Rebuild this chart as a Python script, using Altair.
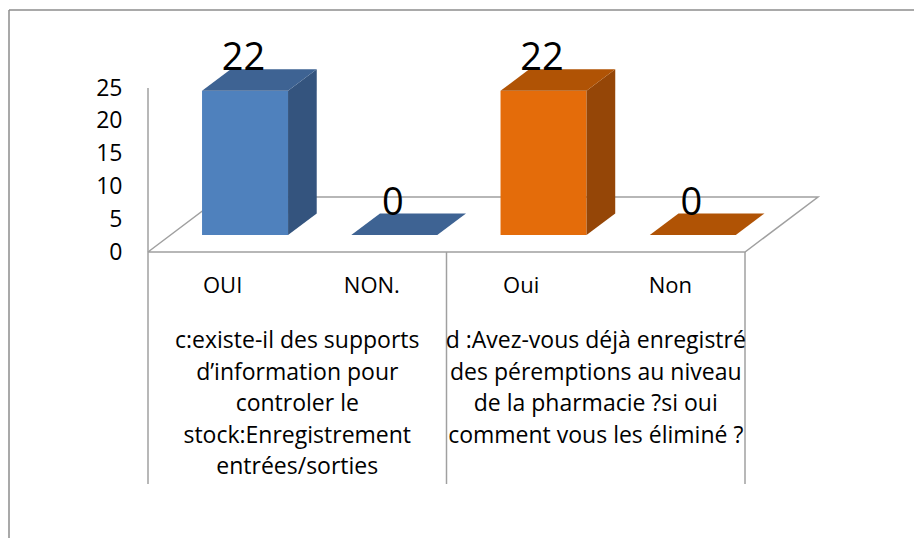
import altair as alt
import pandas as pd

# ---------------- data ----------------
categories = ["OUI", "NON.", "Oui", "Non"]
values = [22, 0, 22, 0]
series = ["c", "c", "d", "d"]
group_lines = [
    ["c:existe-il des supports", "d’information pour", "controler le",
     "stock:Enregistrement", "entrées/sorties"],
    ["d :Avez-vous déjà enregistré", "des péremptions au niveau",
     "de la pharmacie ?si oui", "comment vous les éliminé ?"],
]
y_ticks = [0, 5, 10, 15, 20, 25]

# ---------------- style ----------------
FRONT = {"c": "#4f81bd", "d": "#e46c0a"}
SIDE = {"c": "#34547e", "d": "#954607"}
TOP = {"c": "#3e6393", "d": "#b05305"}
FONT = "Open Sans"
LINE = "#a0a0a0"

# ---------------- layout ----------------
W, H = 905, 528
PAD_L, PAD_T = 1, 2
X0_PX = 139.0      # slot 0 in plot pixels
PX_SLOT = 149.25
Y0_PX = 242.0      # value 0 in plot pixels
PX_UNIT = 6.56
x_lo = -X0_PX / PX_SLOT
x_hi = x_lo + W / PX_SLOT
y_hi = Y0_PX / PX_UNIT
y_lo = y_hi - H / PX_UNIT

DX, DY = 73 / PX_SLOT, 55 / PX_UNIT     # floor depth vector
F0, F1 = 0.307, 0.70                    # bar depth position (fraction of floor)
HW = 43 / PX_SLOT                       # bar half width
N = len(categories)
TABLE_BOTTOM = -(484 - 252) / PX_UNIT
CAT_Y = -(286 - 252) / PX_UNIT
GROUP_Y = -(348 - 252) / PX_UNIT

xs = alt.Scale(domain=[x_lo, x_hi], nice=False, zero=False)
ys = alt.Scale(domain=[y_lo, y_hi], nice=False, zero=False)
yaxis = alt.Axis(values=y_ticks, offset=-X0_PX, labelPadding=26, domain=False,
                 ticks=False, grid=False, labelFont=FONT, labelFontSize=23,
                 labelColor="#000000", title=None)


def X(f):
    return alt.X(f"{f}:Q", scale=xs, axis=None)


def Y(f):
    return alt.Y(f"{f}:Q", scale=ys, axis=yaxis, stack=False)


# ---------------- build geometry from data ----------------
front_rows, side_rows, top_rows, label_rows = [], [], [], []
for i, (cat, v, s) in enumerate(zip(categories, values, series)):
    c = i + 0.5 + F0 * DX
    xl, xr = c - HW, c + HW
    yb, yt = F0 * DY, v + F0 * DY
    ddx, ddy = (F1 - F0) * DX, (F1 - F0) * DY
    front_rows.append(dict(x=xl, x2=xr, y=yb, y2=yt, col=FRONT[s], id=i))
    side_rows += [
        dict(x=xr, lo=yb, hi=yt, col=SIDE[s], id=i),
        dict(x=xr + ddx, lo=yb + ddy, hi=yt + ddy, col=SIDE[s], id=i),
    ]
    top_rows += [
        dict(x=xl, lo=yt, hi=yt, col=TOP[s], id=i),
        dict(x=xl + ddx, lo=yt, hi=yt + ddy, col=TOP[s], id=i),
        dict(x=xr, lo=yt, hi=yt + ddy, col=TOP[s], id=i),
        dict(x=xr + ddx, lo=yt + ddy, hi=yt + ddy, col=TOP[s], id=i),
    ]
    label_rows.append(dict(x=c - 0.01, y=yt + ddy, t=str(v)))

front = pd.DataFrame(front_rows)
side = pd.DataFrame(side_rows)
top = pd.DataFrame(top_rows)
labels = pd.DataFrame(label_rows)

floor = pd.DataFrame(dict(
    x=[0, N, N + DX, DX, 0],
    y=[0, 0, DY, DY, 0],
    o=[0, 1, 2, 3, 4],
))
table = pd.DataFrame(dict(
    x=[0, N / 2, N],
    y=[25, 0, 0],
    y2=[TABLE_BOTTOM] * 3,
))
cats = pd.DataFrame(dict(x=[i + 0.5 for i in range(N)], y=[CAT_Y] * N, t=categories))
groups = pd.DataFrame(dict(
    x=[N / 4, 3 * N / 4],
    y=[GROUP_Y] * 2,
    t=["\n".join(g) for g in group_lines],
))

# ---------------- layers ----------------
frame_top = alt.Chart(pd.DataFrame({"a": [0]})).mark_rule(color="#8c8c8c", strokeWidth=1.5).encode(
    x=alt.value(0), x2=alt.value(W), y=alt.value(0))
frame_left = alt.Chart(pd.DataFrame({"a": [0]})).mark_rule(color="#8c8c8c", strokeWidth=1.5).encode(
    x=alt.value(0), y=alt.value(0), y2=alt.value(H))

floor_l = alt.Chart(floor).mark_line(color=LINE, strokeWidth=1.5).encode(
    x=X("x"), y=Y("y"), order="o:Q")
table_l = alt.Chart(table).mark_rule(color=LINE, strokeWidth=1.5).encode(
    x=X("x"), y=Y("y"), y2="y2:Q")

front_l = alt.Chart(front).mark_rect().encode(
    x=X("x"), x2="x2:Q", y=Y("y"), y2="y2:Q",
    color=alt.Color("col:N", scale=None))
side_l = alt.Chart(side).mark_area().encode(
    x=X("x"), y=Y("lo"), y2="hi:Q", detail="id:N",
    color=alt.Color("col:N", scale=None))
top_l = alt.Chart(top).mark_area().encode(
    x=X("x"), y=Y("lo"), y2="hi:Q", detail="id:N",
    color=alt.Color("col:N", scale=None))

label_l = alt.Chart(labels).mark_text(
    font=FONT, fontSize=38, color="#000000", baseline="alphabetic", align="center", dy=1
).encode(x=X("x"), y=Y("y"), text="t:N")
cat_l = alt.Chart(cats).mark_text(
    font=FONT, fontSize=22, color="#000000", baseline="middle", align="center"
).encode(x=X("x"), y=Y("y"), text="t:N")
group_l = alt.Chart(groups).mark_text(
    font=FONT, fontSize=23, color="#000000", baseline="alphabetic", align="center",
    lineBreak="\n", lineHeight=31.5
).encode(x=X("x"), y=Y("y"), text="t:N")

chart = alt.layer(
    frame_top, frame_left, floor_l, table_l, front_l, side_l, top_l,
    label_l, cat_l, group_l
).properties(
    width=W, height=H,
    autosize=alt.AutoSizeParams(type="none"),
    padding={"left": PAD_L, "top": PAD_T, "right": 0, "bottom": 0},
    background="#ffffff",
).configure_view(stroke=None)

chart.save("out.html", embed_options={"renderer": "svg", "actions": False})
